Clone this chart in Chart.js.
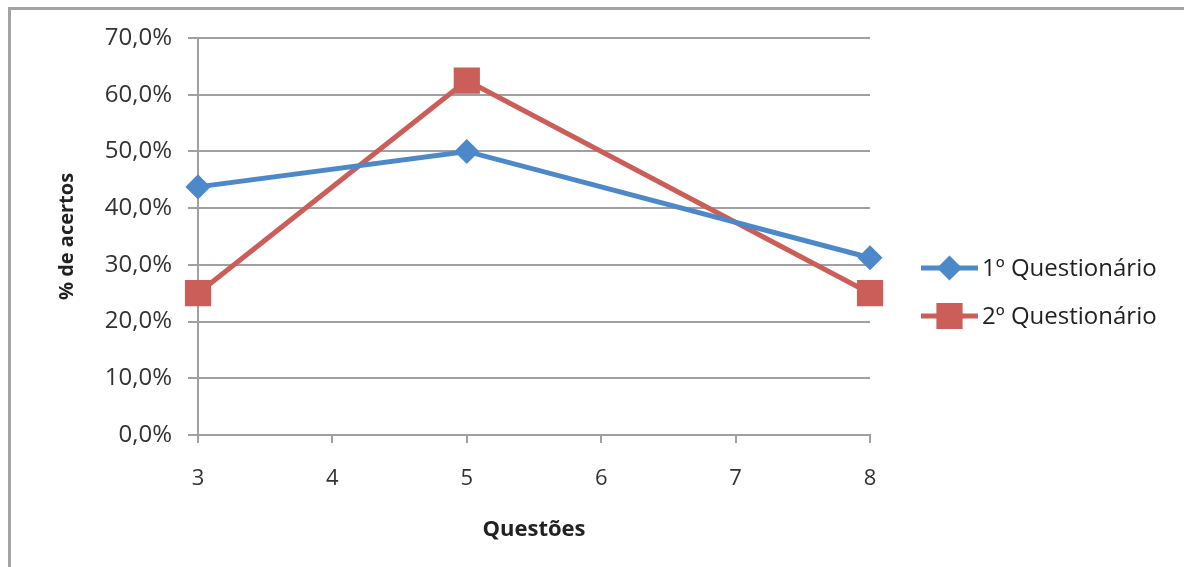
<!DOCTYPE html>
<html>
<head>
<meta charset="utf-8">
<script src="https://cdn.jsdelivr.net/npm/chart.js@4"></script>
<style>
  html, body { margin: 0; padding: 0; background: #fff; }
  #wrap { position: relative; width: 1184px; height: 567px; overflow: hidden; }
  #frame {
    position: absolute; left: 8px; top: 7px; width: 1300px; height: 700px;
    border-left: 3px solid #a3a3a3; border-top: 3px solid #a3a3a3;
  }
  canvas { position: absolute; left: 0; top: 0; }
</style>
</head>
<body>
<div id="wrap">
  <div id="frame"></div>
  <canvas id="chart" width="1184" height="567"></canvas>
</div>
<script>
/* ---- data ---- */
const questoes = [3, 5, 8];
const quest1 = [43.75, 50, 31.25];
const quest2 = [25, 62.5, 25];
const seriesNames = ["1º Questionário", "2º Questionário"];
const xTicks = [3, 4, 5, 6, 7, 8];
const yTicks = [0, 10, 20, 30, 40, 50, 60, 70];

const BLUE = "#4d89c9";
const RED = "#cc5e5a";
const GRID = "#a0a0a0";
const FONT = "'Open Sans', sans-serif";

/* legend drawn to the right, line + marker like the original */
const sideLegend = {
  id: "sideLegend",
  afterDraw(chart) {
    const ctx = chart.ctx;
    const x0 = 921, x1 = 978, rows = [268, 316];
    chart.data.datasets.forEach((ds, i) => {
      const y = rows[i];
      ctx.save();
      ctx.strokeStyle = ds.borderColor;
      ctx.lineWidth = 5;
      ctx.beginPath();
      ctx.moveTo(x0, y);
      ctx.lineTo(x1, y);
      ctx.stroke();
      Chart.helpers.drawPoint(ctx, {
        pointStyle: ds.pointStyle,
        radius: ds.pointRadius,
        borderWidth: 1
      }, (x0 + x1) / 2, y);
      ctx.fillStyle = ds.pointBackgroundColor;
      ctx.fill();
      ctx.fillStyle = "#222";
      ctx.font = "24px " + FONT;
      ctx.textBaseline = "middle";
      ctx.fillText(ds.label, 982, y + 1);
      ctx.restore();
    });
  }
};

new Chart(document.getElementById("chart"), {
  type: "line",
  data: {
    datasets: [
      {
        label: seriesNames[0],
        data: questoes.map((q, i) => ({ x: q, y: quest1[i] })),
        borderColor: BLUE,
        backgroundColor: BLUE,
        pointBackgroundColor: BLUE,
        pointBorderColor: BLUE,
        borderWidth: 5,
        pointStyle: "rectRot",
        pointRadius: 9,
        tension: 0,
        clip: false
      },
      {
        label: seriesNames[1],
        data: questoes.map((q, i) => ({ x: q, y: quest2[i] })),
        borderColor: RED,
        backgroundColor: RED,
        pointBackgroundColor: RED,
        pointBorderColor: RED,
        borderWidth: 5,
        pointStyle: "rect",
        pointRadius: 15,
        tension: 0,
        clip: false
      }
    ]
  },
  options: {
    responsive: false,
    animation: false,
    layout: { padding: { left: 0, top: 38, right: 314, bottom: 0 } },
    plugins: {
      legend: { display: false },
      tooltip: { enabled: false }
    },
    scales: {
      x: {
        type: "linear",
        min: 3,
        max: 8,
        afterBuildTicks: s => { s.ticks = xTicks.map(v => ({ value: v })); },
        afterFit: s => { s.height = 132; },
        grid: { drawOnChartArea: false, drawTicks: true, tickLength: 8, color: GRID, lineWidth: 2 },
        border: { color: GRID, width: 2 },
        ticks: { color: "#333", font: { family: FONT, size: 22 }, padding: 23 },
        title: {
          display: true, text: "Questões", color: "#222",
          font: { family: FONT, size: 22, weight: "bold" }, padding: { top: 0, bottom: 24 }
        }
      },
      y: {
        min: 0,
        max: 70,
        afterBuildTicks: s => { s.ticks = yTicks.map(v => ({ value: v })); },
        afterFit: s => { s.width = 198; },
        grid: { color: GRID, lineWidth: 2, tickLength: 10 },
        border: { color: GRID, width: 2 },
        ticks: {
          color: "#333", font: { family: FONT, size: 24 }, padding: 16,
          callback: v => v.toFixed(1).replace(".", ",") + "%"
        },
        title: {
          display: true, text: "% de acertos", color: "#222",
          font: { family: FONT, size: 20, weight: "bold" }, padding: { top: 55, bottom: 0 }
        }
      }
    }
  },
  plugins: [sideLegend]
});
</script>
</body>
</html>
